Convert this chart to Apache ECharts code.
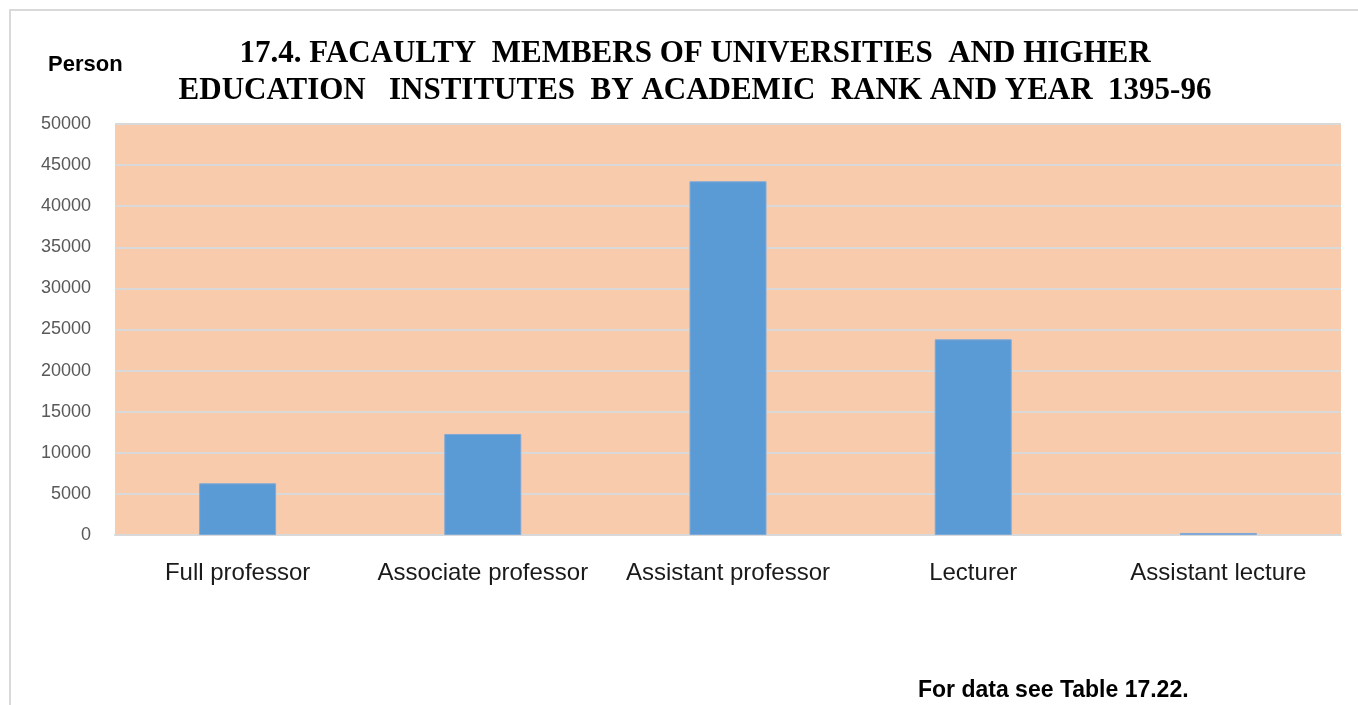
<!DOCTYPE html>
<html>
<head>
<meta charset="utf-8">
<script src="https://cdn.jsdelivr.net/npm/echarts@6/dist/echarts.min.js"></script>
<style>
  html, body { margin: 0; padding: 0; background: #fff; }
  #chart { width: 1358px; height: 705px; }
</style>
</head>
<body>
<div id="chart"></div>
<script>
const categories = ['Full professor', 'Associate professor', 'Assistant professor', 'Lecturer', 'Assistant lecture']
const members = [6290, 12290, 43030, 23810, 250]
const yMax = 50000
const yStep = 5000

const chart = echarts.init(document.getElementById('chart'))

const option = {
  animation: false,
  backgroundColor: '#fff',
  title: [
    {
      text: '17.4. FACAULTY  MEMBERS OF UNIVERSITIES  AND HIGHER\nEDUCATION   INSTITUTES  BY ACADEMIC  RANK AND YEAR  1395-96',
      left: 690,
      top: 30,
      textAlign: 'center',
      textStyle: {
        fontFamily: 'Liberation Serif',
        fontWeight: 'bold',
        fontSize: 31,
        lineHeight: 37,
        color: '#000',
      },
    },
    {
      text: 'Person',
      left: 43,
      top: 49,
      textStyle: { fontFamily: 'Liberation Sans', fontWeight: 'bold', fontSize: 22, color: '#000' },
    },
    {
      text: 'For data see Table 17.22.',
      left: 913,
      top: 674,
      textStyle: { fontFamily: 'Liberation Sans', fontWeight: 'bold', fontSize: 23, color: '#000' },
    },
  ],
  graphic: [
    {
      type: 'rect',
      shape: { x: 10, y: 10, width: 1400, height: 800 },
      style: { fill: 'none', stroke: '#d9d9d9', lineWidth: 2 },
      silent: true,
    },
  ],
  grid: {
    left: 115,
    top: 124,
    width: 1226,
    height: 411,
    show: true,
    backgroundColor: '#f8cbad',
    borderWidth: 0,
  },
  xAxis: {
    type: 'category',
    data: categories,
    axisLine: { lineStyle: { color: '#d9d9d9', width: 2 } },
    axisTick: { show: false },
    axisLabel: {
      margin: 26,
      fontFamily: 'Liberation Sans',
      fontSize: 24,
      color: '#1a1a1a',
      interval: 0,
    },
  },
  yAxis: {
    type: 'value',
    min: 0,
    max: yMax,
    interval: yStep,
    axisLine: { show: false },
    axisTick: { show: false },
    splitLine: { lineStyle: { color: '#d9d9d9', width: 2 } },
    axisLabel: {
      margin: 24,
      fontFamily: 'Liberation Sans',
      fontSize: 18,
      color: '#595959',
      formatter: (v) => String(v),
    },
  },
  series: [
    {
      type: 'bar',
      data: members,
      barWidth: '31.4%',
      itemStyle: { color: '#5b9bd5', borderColor: '#7fa9d8', borderWidth: 1 },
    },
  ],
}

chart.setOption(option)
</script>
</body>
</html>
